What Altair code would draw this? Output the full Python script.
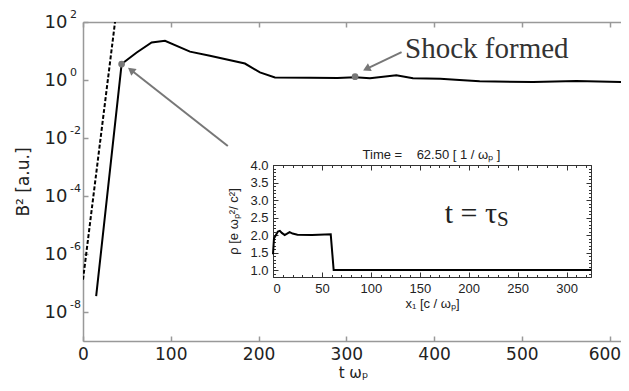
import altair as alt
import pandas as pd

# ---------------- data ----------------
# main curve: B^2 vs t*omega_p
t_main = [15, 44, 61.2, 78.2, 93.4, 121.9, 144.6, 184.5, 201.6, 218.7, 258.5, 290, 310, 327, 357, 376, 407, 429, 452, 513, 562, 613]
b2_main = [3.5e-8, 3.55, 8.9, 19.8, 22.6, 9.5, 6.9, 3.7, 1.83, 1.23, 1.2, 1.17, 1.25, 1.14, 1.45, 1.14, 1.1, 1.0, 0.9, 0.85, 0.92, 0.86]

# dashed growth-rate line
t_fit = [0, 36.5]
b2_fit = [1.3e-7, 100]

# highlighted points
t_mark = [44, 310]
b2_mark = [3.55, 1.3]

# inset: density profile
x_inset = [0, 1, 3, 5, 7, 9, 12, 14, 17, 20, 25, 40, 59, 62, 325]
rho_inset = [1.45, 1.9, 2.0, 2.1, 2.12, 2.06, 2.0, 2.03, 2.08, 2.04, 2.01, 2.0, 2.02, 1.0, 1.0]

# ticks
x_ticks = [0, 100, 200, 300, 400, 500, 600]
y_ticks = [1e-8, 1e-6, 1e-4, 1e-2, 1, 100]
y_exps = ["-8", "-6", "-4", "-2", "0", "2"]
ins_x_major = [0, 50, 100, 150, 200, 250, 300]
ins_x_minor = list(range(0, 330, 10))
ins_y_major = [1.0, 1.5, 2.0, 2.5, 3.0, 3.5, 4.0]
ins_y_minor = [round(0.8 + 0.1 * i, 1) for i in range(33)]

# annotations (data coordinates)
arrow_t1 = [165, 363]
arrow_y1 = [5.3e-3, 9.2]
arrow_t2 = [54.7, 323]
arrow_y2 = [2.2, 2.43]
arrow_ang = [308, 244]

SANS = "DejaVu Sans"
INS = "Liberation Sans"
SERIF = "Liberation Serif"
GRAY = "#999999"
TXT = "#222222"

W, H = 538, 319

X_MAIN = alt.Scale(domain=[0, 613], nice=False, zero=False)
Y_MAIN = alt.Scale(type="log", domain=[1e-9, 100], nice=False)
X_INS = alt.Scale(domain=[0, 325], range=[190, 508], nice=False, zero=False)
Y_INS = alt.Scale(domain=[0.8, 4.0], range=[255, 143], nice=False, zero=False)

df_main = pd.DataFrame({"t": t_main, "b2": b2_main})
df_fit = pd.DataFrame({"t": t_fit, "b2": b2_fit})
df_mark = pd.DataFrame({"t": t_mark, "b2": b2_mark})
df_ins = pd.DataFrame({"x": x_inset, "rho": rho_inset})
df_exp = pd.DataFrame({"val": y_ticks, "exp": y_exps}).assign(t=0)
df_arrow = pd.DataFrame({"t1": arrow_t1, "y1": arrow_y1, "t2": arrow_t2, "y2": arrow_y2, "ang": arrow_ang})

noax = dict(labels=False, domain=False, grid=False, title=None)

# ---- main line with labelled axes ----
main_line = alt.Chart(df_main).mark_line(color="black", strokeWidth=2, clip=True).encode(
    x=alt.X("t:Q", scale=X_MAIN, axis=alt.Axis(
        orient="bottom", values=x_ticks, ticks=False, grid=False,
        domainColor=GRAY, domainWidth=1.5,
        labelFont=SANS, labelFontSize=17, labelColor=TXT, labelPadding=5,
        labelAlign=alt.condition("datum.value == 600", alt.value("right"), alt.value("center")),
        labelOffset=alt.condition("datum.value == 600", alt.value(11), alt.value(0)),
        title="t ωₚ", titleFont=SANS, titleFontSize=15, titleFontWeight="normal",
        titleColor=TXT, titleX=270, titleY=31, titleBaseline="middle", titleAlign="center")),
    y=alt.Y("b2:Q", scale=Y_MAIN, axis=alt.Axis(
        orient="left", values=y_ticks, labelExpr="'10'", ticks=False, grid=False,
        domainColor=GRAY, domainWidth=1.5,
        labelFont=SANS, labelFontSize=18, labelColor=TXT, labelPadding=16,
        title="B² [a.u.]", titleFont=SANS, titleFontSize=17, titleFontWeight="normal",
        titleColor=TXT, titleX=-60, titleY=159.5, titleAngle=270,
        titleBaseline="middle", titleAlign="center")),
)

# ---- dashed line + inward ticks bottom/left ----
fit_line = alt.Chart(df_fit).mark_line(color="black", strokeWidth=2, strokeDash=[4, 2], clip=True).encode(
    x=alt.X("t:Q", scale=X_MAIN, axis=alt.Axis(orient="top", offset=-H, values=x_ticks,
                                               tickSize=5, tickColor=GRAY, tickWidth=1.5, **noax)),
    y=alt.Y("b2:Q", scale=Y_MAIN, axis=alt.Axis(orient="right", offset=-W, values=y_ticks,
                                                tickSize=5, tickColor=GRAY, tickWidth=1.5, **noax)),
)

# ---- markers + top frame ----
marks = alt.Chart(df_mark).mark_point(filled=True, color="#777777", size=45, opacity=1).encode(
    x=alt.X("t:Q", scale=X_MAIN, axis=alt.Axis(orient="bottom", offset=-H, values=x_ticks,
                                               tickSize=5, tickColor=GRAY, tickWidth=1.5,
                                               labels=False, domain=True, domainColor=GRAY,
                                               domainWidth=1.5, grid=False, title=None)),
    y=alt.Y("b2:Q", scale=Y_MAIN, axis=None),
)

exps = alt.Chart(df_exp).mark_text(align="left", baseline="middle", dx=-13, dy=-7,
                                   fontSize=11, font=SANS, color=TXT).encode(
    x=alt.X("t:Q", scale=X_MAIN, axis=None),
    y=alt.Y("val:Q", scale=Y_MAIN, axis=None),
    text="exp:N",
)

arrows = alt.Chart(df_arrow).mark_rule(color="#777777", strokeWidth=2).encode(
    x=alt.X("t1:Q", scale=X_MAIN, axis=None), x2="t2:Q",
    y=alt.Y("y1:Q", scale=Y_MAIN, axis=None), y2="y2:Q",
)
heads = alt.Chart(df_arrow).mark_point(shape="triangle-up", filled=True, color="#777777",
                                       size=75, opacity=1).encode(
    x=alt.X("t2:Q", scale=X_MAIN, axis=None),
    y=alt.Y("y2:Q", scale=Y_MAIN, axis=None),
    angle=alt.Angle("ang:Q", scale=None),
)

shock_txt = alt.Chart(pd.DataFrame({"t": [367], "v": [11.7], "s": ["Shock formed"]})).mark_text(
    align="left", baseline="middle", font=SERIF, fontSize=29, color="#333333").encode(
    x=alt.X("t:Q", scale=X_MAIN, axis=None),
    y=alt.Y("v:Q", scale=Y_MAIN, axis=None),
    text="s:N",
)

# ---- inset ----
ins_style = dict(domainColor="#333333", tickColor="#333333", grid=False)

ins_line = alt.Chart(df_ins).mark_line(color="black", strokeWidth=2).encode(
    x=alt.X("x:Q", scale=X_INS, axis=alt.Axis(
        orient="bottom", offset=-64, values=ins_x_major, ticks=False,
        labelFont=INS, labelFontSize=13, labelColor=TXT, labelPadding=5,
        title="x₁ [c / ωₚ]", titleFont=INS, titleFontSize=13, titleFontWeight="normal",
        titleColor=TXT, titleX=349, titleY=26, titleBaseline="middle", titleAlign="center",
        **ins_style)),
    y=alt.Y("rho:Q", scale=Y_INS, axis=alt.Axis(
        orient="left", offset=-190, values=ins_y_major, format=".1f", ticks=False,
        labelFont=INS, labelFontSize=13, labelColor=TXT, labelPadding=5,
        title="ρ [e ωₚ²/ c²]", titleFont=INS, titleFontSize=13, titleFontWeight="normal",
        titleColor=TXT, titleX=-40, titleY=199, titleAngle=270,
        titleBaseline="middle", titleAlign="center",
        **ins_style)),
)


def ins_ticks(xorient, xoff, yorient, yoff, xvals, yvals, size, domain):
    return alt.Chart(df_ins).mark_point(opacity=0).encode(
        x=alt.X("x:Q", scale=X_INS, axis=alt.Axis(
            orient=xorient, offset=xoff, values=xvals, tickSize=size, labels=False,
            domain=domain, title=None, **ins_style)),
        y=alt.Y("rho:Q", scale=Y_INS, axis=alt.Axis(
            orient=yorient, offset=yoff, values=yvals, tickSize=size, labels=False,
            domain=domain, title=None, **ins_style)),
    )


ins_e = ins_ticks("top", -255, "right", -348, ins_x_major, ins_y_major, 5, False)
ins_f = ins_ticks("top", -255, "right", -348, ins_x_minor, ins_y_minor, 2.5, False)
ins_g = ins_ticks("bottom", -176, "left", -508, ins_x_major, ins_y_major, 5, True)
ins_h = ins_ticks("bottom", -176, "left", -508, ins_x_minor, ins_y_minor, 2.5, False)

ins_title = alt.Chart(pd.DataFrame({"x": [162], "y": [4.0],
                                    "s": ["Time =\u00a0\u00a0\u00a0\u00a062.50 [ 1 / ωₚ ]"]})).mark_text(
    align="center", baseline="middle", dy=-10, font=INS, fontSize=13, color=TXT).encode(
    x=alt.X("x:Q", scale=X_INS, axis=None),
    y=alt.Y("y:Q", scale=Y_INS, axis=None),
    text="s:N",
)

tau_main = alt.Chart(pd.DataFrame({"x": [229], "y": [2.34], "s": ["t = τ"]})).mark_text(
    align="right", baseline="alphabetic", font=SERIF, fontSize=30, color=TXT).encode(
    x=alt.X("x:Q", scale=X_INS, axis=None),
    y=alt.Y("y:Q", scale=Y_INS, axis=None),
    text="s:N",
)
tau_sub = alt.Chart(pd.DataFrame({"x": [229], "y": [2.26], "s": ["S"]})).mark_text(
    align="left", baseline="alphabetic", font=SERIF, fontSize=21, color=TXT).encode(
    x=alt.X("x:Q", scale=X_INS, axis=None),
    y=alt.Y("y:Q", scale=Y_INS, axis=None),
    text="s:N",
)

chart = alt.layer(
    main_line, fit_line, marks, exps, arrows, heads, shock_txt,
    ins_line, ins_e, ins_f, ins_g, ins_h, ins_title, tau_main, tau_sub,
).resolve_scale(x="independent", y="independent").resolve_axis(
    x="independent", y="independent"
).properties(
    width=W, height=H,
    autosize=alt.AutoSizeParams(type="none"),
    padding={"left": 75, "top": 14, "right": 0, "bottom": 40},
).configure_view(stroke=None).configure(background="white")

chart.save("out.html", embed_options={"renderer": "svg", "actions": False})
